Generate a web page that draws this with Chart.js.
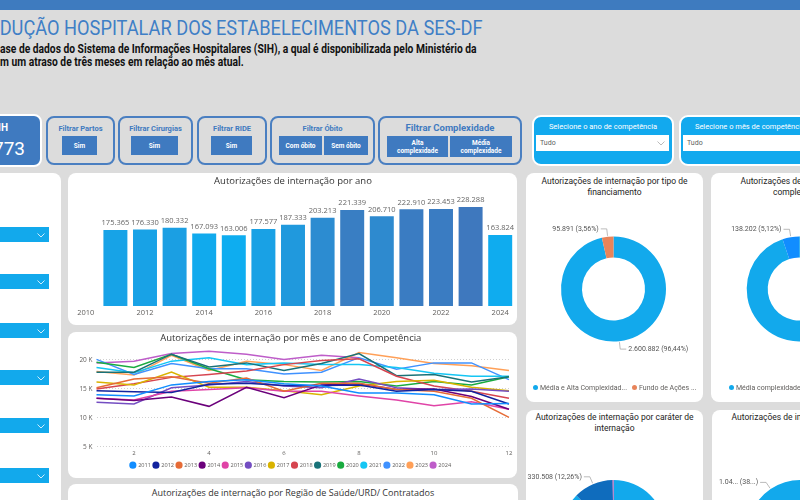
<!DOCTYPE html>
<html lang="pt-BR">
<head>
<meta charset="utf-8">
<title>Produção Hospitalar SES-DF</title>
<script src="https://cdn.jsdelivr.net/npm/chart.js@4.4.1/dist/chart.umd.min.js"></script>
<style>
  html, body { margin: 0; padding: 0; }
  body { width: 800px; height: 500px; overflow: hidden; position: relative; background: #dcdcdc; font-family: Roboto, "Open Sans", sans-serif; }
  .abs { position: absolute; }
  .card { position: absolute; background: #fff; border-radius: 8px; }
  .filtro { position: absolute; top: 116px; height: 49px; box-sizing: border-box; border: 2px solid #4a7fc1; border-radius: 8px; }
  .filtro .tit { position: absolute; left: 0; right: 0; top: 6px; text-align: center; font: bold 7.5px Roboto; color: #3f7ac0; white-space: nowrap; }
  .botao { position: absolute; top: 136px; height: 19px; background: #3f7ac0; color: #fff; font: bold 6.5px Roboto; display: flex; align-items: center; justify-content: center; text-align: center; line-height: 8px; }
  .slicer { position: absolute; top: 115px; width: 142px; height: 51px; box-sizing: border-box; background: #12a9ee; border: 2px solid #fff; border-radius: 9px; }
  .slicer .tit { position: absolute; left: 0; right: 0; top: 5px; text-align: center; color: #fff; font: 7.5px Roboto; white-space: nowrap; }
  .slicer .caixa { position: absolute; left: 2px; top: 18px; width: 133px; height: 16px; background: #fff; font: 7px/16px Roboto; color: #605e5c; }
  .caixa span { position: absolute; left: 4px; }
  .caixa svg, .lista svg { position: absolute; right: 4px; top: 6px; }
  .lista { position: absolute; left: 0; width: 49px; height: 15px; background: #12a9ec; }
  .sub { position: absolute; left: 0; font: bold 12px/13px Roboto; color: #111; white-space: nowrap; transform-origin: left center; }
  .tcard { position: absolute; text-align: center; font: 8.5px/11px Roboto; color: #252423; white-space: nowrap; }
  .leg { position: absolute; font: 7px Roboto; color: #605e5c; white-space: nowrap; }
  .leg .li { margin-right: 5px; }
  .leg i { display: inline-block; width: 5px; height: 5px; border-radius: 50%; margin-right: 2px; vertical-align: 0; }
</style>
</head>
<body>

<div class="abs" style="left:0;top:0;width:800px;height:10px;background:#3e7bbf"></div>
<div id="titulo" class="abs" style="right:317px;top:18px;font:21px/21px Roboto;color:#3f7fc6;white-space:nowrap;transform-origin:right center"><span id="tituloPre">PRO</span>DUÇÃO HOSPITALAR DOS ESTABELECIMENTOS DA SES-DF</div>
<div id="sub1" class="sub" style="top:43px">ase de dados do Sistema de Informações Hospitalares (SIH), a qual é disponibilizada pelo Ministério da</div>
<div id="sub2" class="sub" style="top:56px">m um atraso de três meses em relação ao mês atual.</div>

<!-- cartão total -->
<div class="abs" style="left:-20px;top:114px;width:58px;height:49px;background:#3f7ac0;border:2px solid #fff;border-radius:8px"></div>
<div class="abs" style="right:792px;top:122px;color:#fff;font:bold 10px Roboto;white-space:nowrap">Total AIH</div>
<div class="abs" style="right:775px;top:137px;color:#fff;font:19px Roboto;white-space:nowrap">2.696.773</div>

<!-- filtros -->
<div class="filtro" style="left:46px;width:69px"><div class="tit">Filtrar Partos</div></div>
<div class="botao" style="left:62px;width:35px">Sim</div>
<div class="filtro" style="left:118px;width:75px"><div class="tit">Filtrar Cirurgias</div></div>
<div class="botao" style="left:131px;width:47px">Sim</div>
<div class="filtro" style="left:197px;width:70px"><div class="tit">Filtrar RIDE</div></div>
<div class="botao" style="left:211px;width:41px">Sim</div>
<div class="filtro" style="left:270px;width:105px"><div class="tit">Filtrar Óbito</div></div>
<div class="botao" style="left:279px;width:43px">Com óbito</div>
<div class="botao" style="left:324px;width:44px">Sem óbito</div>
<div class="filtro" style="left:378px;width:144px"><div class="tit" style="font-size:9.5px;top:4px">Filtrar Complexidade</div></div>
<div class="botao" style="left:387px;width:61px;height:21px">Alta<br>complexidade</div>
<div class="botao" style="left:450px;width:62px;height:21px">Média<br>complexidade</div>

<div class="slicer" style="left:532px"><div class="tit">Selecione o ano de competência</div>
  <div class="caixa"><span>Tudo</span><svg width="8" height="5"><polyline points="0.5,0.5 4,4 7.5,0.5" fill="none" stroke="#aaa" stroke-width="0.8"/></svg></div></div>
<div class="slicer" style="left:679px"><div class="tit">Selecione o mês de competência</div>
  <div class="caixa"><span>Tudo</span><svg width="8" height="5"><polyline points="0.5,0.5 4,4 7.5,0.5" fill="none" stroke="#aaa" stroke-width="0.8"/></svg></div></div>

<!-- painel esquerdo -->
<div class="card" style="left:-20px;top:173px;width:81px;height:340px"></div>
<div id="listas"></div>

<!-- cartões -->
<div class="card" style="left:68px;top:173px;width:449px;height:152px"></div>
<canvas id="gAno" class="abs" width="449" height="152" style="left:68px;top:173px"></canvas>

<div class="card" style="left:68px;top:332px;width:449px;height:146px"></div>
<canvas id="gMes" class="abs" width="449" height="146" style="left:68px;top:332px"></canvas>

<div class="card" style="left:68px;top:484px;width:450px;height:40px"></div>
<div class="abs" style="left:68px;width:450px;top:486px;text-align:center;font:9px 'Open Sans';color:#333">Autorizações de internação por Região de Saúde/URD/ Contratados</div>

<div class="card" style="left:526px;top:173px;width:177px;height:229px"></div>
<div class="card" style="left:711px;top:173px;width:177px;height:229px"></div>
<div class="card" style="left:526px;top:410px;width:177px;height:229px"></div>
<div class="card" style="left:712px;top:410px;width:177px;height:229px"></div>

<div class="tcard" style="left:526px;width:177px;top:176px">Autorizações de internação por tipo de<br>financiamento</div>
<div class="tcard" style="left:711px;width:177px;top:176px">Autorizações de internação por<br>complexidade</div>
<div class="tcard" style="left:526px;width:177px;top:412px">Autorizações de internação por caráter de<br>internação</div>
<div class="tcard" style="left:712px;width:177px;top:412px">Autorizações de internação por sexo</div>

<canvas id="gFin" class="abs" width="177" height="229" style="left:526px;top:173px"></canvas>
<canvas id="gCompl" class="abs" width="177" height="229" style="left:711px;top:173px"></canvas>
<canvas id="gCarater" class="abs" width="177" height="229" style="left:526px;top:410px"></canvas>
<canvas id="gSexo" class="abs" width="177" height="229" style="left:712px;top:410px"></canvas>

<div id="legFin" class="leg" style="left:533px;top:384px"></div>
<div id="legCompl" class="leg" style="left:729px;top:384px"></div>

<script>
// autorizações por ano
const anos = ['2010', '2011', '2012', '2013', '2014', '2015', '2016', '2017', '2018', '2019', '2020', '2021', '2022', '2023', '2024'];
const aihPorAno = [null, 175365, 176330, 180332, 167093, 163006, 177577, 187333, 203213, 221339, 206710, 222910, 223453, 228288, 163824];

// autorizações por mês de competência
const meses = ['1', '2', '3', '4', '5', '6', '7', '8', '9', '10', '11', '12'];
const anosSerie = ['2011', '2012', '2013', '2014', '2015', '2016', '2017', '2018', '2019', '2020', '2021', '2022', '2023', '2024'];
const aih2011 = [14000, 13800, 15700, 16300, 16600, 15900, 15500, 14300, 14300, 14000, 12400, 12500];
const aih2012 = [14700, 14500, 14400, 15800, 16000, 15600, 15600, 15700, 14600, 14900, 14600, 12400];
const aih2013 = [15200, 16700, 17100, 16000, 16900, 14600, 16000, 16000, 14900, 14600, 13400, 10100];
const aih2014 = [13400, 13000, 13600, 12000, 15300, 13500, 15700, 15900, 14900, 15000, 13700, 11500];
const aih2015 = [13400, 13100, 14600, 14900, 15200, 14600, 14600, 13800, 13100, 12100, 12800, 11500];
const aih2016 = [12700, 12400, 15200, 15700, 16300, 15500, 15200, 16700, 15200, 14900, 15000, 14600];
const aih2017 = [16200, 15700, 17900, 15300, 15300, 14700, 14000, 15500, 16300, 16500, 15300, 14700];
const aih2018 = [15000, 15900, 17000, 17500, 18100, 19200, 19900, 20200, 17200, 15500, 14600, 13400];
const aih2019 = [17900, 17900, 21000, 18800, 19500, 18200, 19400, 21100, 17300, 17500, 16200, 17100];
const aih2020 = [19600, 18700, 21000, 18500, 16600, 16300, 16200, 16300, 15500, 16300, 15700, 17100];
const aih2021 = [18700, 17800, 19800, 20400, 19200, 19500, 19200, 19200, 18700, 17700, 17200, 17200];
const aih2022 = [20100, 17500, 19400, 18500, 18500, 17600, 17900, 20400, 18400, 19500, 19500, 16600];
const aih2023 = [18000, 17400, 20800, 18200, 19800, 19200, 18200, 21300, 20400, 19400, 19000, 18200];
const aih2024 = [19500, 19800, 21100, 21500, 21000, 20100, 20800, 20400];
const seriesMes = [aih2011, aih2012, aih2013, aih2014, aih2015, aih2016, aih2017, aih2018, aih2019, aih2020, aih2021, aih2022, aih2023, aih2024];
const ticksMil = [5000, 10000, 15000, 20000];

// roscas
const tiposFinanciamento = ['Média e Alta Complexidad...', 'Fundo de Ações ...'];
const aihFinanciamento = [2600882, 95891];
const complexidades = ['Média complexidade', 'Alta complexidade'];
const aihComplexidade = [2558571, 138202];
const carateres = ['Urgência', 'Eletivo', 'Outros'];
const aihCarater = [2359265, 330508, 7000];
const sexos = ['Masculino', 'Feminino'];
const aihSexo = [1041512, 1655261];

const coresAnos = ['#118DFF', '#12239E', '#E66C37', '#6B007B', '#E044A7', '#744EC2', '#D9B300', '#D64550', '#197278', '#1AAB40', '#15C6F4', '#4092FF', '#FFA058', '#BE5DC9'];
const azulClaro = '#12a9ec';

function fmt(n) {
    return String(n).replace(/\B(?=(\d{3})+(?!\d))/g, '.');
}

// fonte condensada dos textos do cabeçalho
function ajustarCabecalho() {
    const t = document.getElementById('titulo');
    const pre = document.getElementById('tituloPre').offsetWidth;
    t.style.transform = `scaleX(${483 / (t.offsetWidth - pre)})`;
    const s1 = document.getElementById('sub1');
    const k = 477 / s1.offsetWidth;
    s1.style.transform = `scaleX(${k})`;
    document.getElementById('sub2').style.transform = `scaleX(${k})`;
}

function montarListas() {
    const tops = [227, 274, 323, 370, 418, 468];
    document.getElementById('listas').innerHTML = tops.map(t =>
        `<div class="lista" style="top:${t}px"><svg width="8" height="5"><polyline points="0.5,0.5 4,4 7.5,0.5" fill="none" stroke="#fff" stroke-width="0.8"/></svg></div>`
    ).join('');
}

function legenda(id, rotulos, cores) {
    document.getElementById(id).innerHTML = rotulos.map((r, i) =>
        `<span class="li"><i style="background:${cores[i]}"></i>${r}</span>`
    ).join('');
}

Chart.defaults.font.family = '"Open Sans", sans-serif';
Chart.defaults.color = '#605e5c';

const valMin = Math.min(...aihPorAno.filter(v => v != null));
const valMax = Math.max(...aihPorAno.filter(v => v != null));
function corBarra(v) {
    if (v == null) return 'transparent';
    const t = (v - valMin) / (valMax - valMin);
    const a = [14, 173, 240], b = [62, 120, 190];
    const c = a.map((x, i) => Math.round(x + (b[i] - x) * t));
    return `rgb(${c[0]}, ${c[1]}, ${c[2]})`;
}

const rotulosBarras = {
    id: 'rotulosBarras',
    afterDatasetsDraw(chart) {
        const ctx = chart.ctx;
        const meta = chart.getDatasetMeta(0);
        ctx.save();
        ctx.font = '7.5px "Open Sans"';
        ctx.fillStyle = '#666';
        ctx.textAlign = 'center';
        ctx.textBaseline = 'bottom';
        meta.data.forEach((bar, i) => {
            const v = chart.data.datasets[0].data[i];
            if (v == null) return;
            ctx.fillText(fmt(v), bar.x, bar.y - 3);
        });
        ctx.restore();
    }
};

const rotulosRosca = {
    id: 'rotulosRosca',
    afterDatasetsDraw(chart) {
        const ctx = chart.ctx;
        const dados = chart.data.datasets[0].data;
        const total = dados.reduce((a, b) => a + b, 0);
        ctx.save();
        ctx.font = '7px Roboto';
        ctx.fillStyle = '#555';
        ctx.strokeStyle = '#aaa';
        ctx.lineWidth = 0.8;
        ctx.textBaseline = 'middle';
        chart.getDatasetMeta(0).data.forEach((arc, i) => {
            const pct = dados[i] / total * 100;
            if (pct < 1) return;
            const p = arc.getProps(['x', 'y', 'startAngle', 'endAngle', 'outerRadius'], true);
            const ang = (p.startAngle + p.endAngle) / 2;
            const c = Math.cos(ang), s = Math.sin(ang);
            const x1 = p.x + c * (p.outerRadius + 1), y1 = p.y + s * (p.outerRadius + 1);
            const x2 = p.x + c * (p.outerRadius + 8), y2 = p.y + s * (p.outerRadius + 8);
            const dir = c >= 0 ? 1 : -1;
            const x3 = x2 + dir * 6;
            const vTxt = fmt(dados[i]);
            const pTxt = pct.toFixed(2).replace('.', ',') + '%';
            let txt = `${vTxt} (${pTxt})`;
            const espaco = dir > 0 ? chart.width - x3 : x3;
            if (ctx.measureText(txt).width + 2 > espaco) {
                txt = `${vTxt.slice(0, 4)}... (${pTxt.slice(0, 2)}...)`;
            }
            ctx.beginPath();
            ctx.moveTo(x1, y1);
            ctx.lineTo(x2, y2);
            ctx.lineTo(x3, y2);
            ctx.stroke();
            ctx.textAlign = dir > 0 ? 'left' : 'right';
            ctx.fillText(txt, x3 + dir * 2, y2);
        });
        ctx.restore();
    }
};

function rosca(id, rotulos, valores, cores, pad, rotacao) {
    return new Chart(document.getElementById(id), {
        type: 'doughnut',
        data: {
            labels: rotulos,
            datasets: [{ data: valores, backgroundColor: cores, borderWidth: 0 }]
        },
        options: {
            responsive: false,
            animation: false,
            cutout: '60%',
            rotation: rotacao || 0,
            layout: { padding: pad },
            plugins: { legend: { display: false }, tooltip: { enabled: false } }
        },
        plugins: [rotulosRosca]
    });
}

function desenhar() {
    ajustarCabecalho();
    montarListas();

    new Chart(document.getElementById('gAno'), {
        type: 'bar',
        data: {
            labels: anos,
            datasets: [{
                data: aihPorAno,
                backgroundColor: aihPorAno.map(corBarra),
                barPercentage: 0.9,
                categoryPercentage: 0.9
            }]
        },
        options: {
            responsive: false,
            animation: false,
            layout: { padding: { left: 3, right: 2, top: 0, bottom: 0 } },
            plugins: {
                legend: { display: false },
                tooltip: { enabled: false },
                title: {
                    display: true,
                    text: 'Autorizações de internação por ano',
                    color: '#333',
                    font: { size: 9.5, weight: 'normal' },
                    padding: { top: 2.5, bottom: 6.3 }
                }
            },
            scales: {
                x: {
                    grid: { display: false, drawTicks: false },
                    border: { display: false },
                    ticks: {
                        autoSkip: false, maxRotation: 0, padding: 2, font: { size: 7.5 },
                        callback: (v, i) => i % 2 === 0 ? anos[i] : ''
                    },
                    afterFit: s => { s.height = 19; }
                },
                y: { display: false, min: 0, max: 260000 }
            }
        },
        plugins: [rotulosBarras]
    });

    new Chart(document.getElementById('gMes'), {
        type: 'line',
        data: {
            labels: meses,
            datasets: anosSerie.map((a, k) => ({
                label: a,
                data: seriesMes[k],
                borderColor: coresAnos[k],
                backgroundColor: coresAnos[k],
                borderWidth: 1.5,
                pointRadius: 0,
                tension: 0
            }))
        },
        options: {
            responsive: false,
            animation: false,
            layout: { padding: { left: 4.5, right: 8, top: 0, bottom: 0 } },
            plugins: {
                tooltip: { enabled: false },
                title: {
                    display: true,
                    text: 'Autorizações de internação por mês e ano de Competência',
                    color: '#333',
                    font: { size: 9.5, weight: 'normal' },
                    padding: { top: 1, bottom: 4 }
                },
                legend: {
                    position: 'bottom',
                    labels: {
                        usePointStyle: true, pointStyle: 'circle',
                        boxWidth: 5, boxHeight: 4, padding: 2.5,
                        font: { size: 5.6 }, color: '#605e5c'
                    }
                }
            },
            scales: {
                x: {
                    grid: { display: false, drawTicks: false },
                    border: { display: false },
                    ticks: {
                        autoSkip: false, maxRotation: 0, padding: 3, font: { size: 6 },
                        callback: (v, i) => (i + 1) % 2 === 0 ? meses[i] : ''
                    },
                    afterFit: s => { s.height = 13; }
                },
                y: {
                    min: 5000,
                    max: 22000,
                    afterBuildTicks: s => { s.ticks = ticksMil.map(v => ({ value: v })); },
                    grid: { drawTicks: false, color: '#d0d0d0' },
                    border: { display: false, dash: [1, 2] },
                    ticks: {
                        autoSkip: false, padding: 4, font: { size: 6.5 }, color: '#605e5c',
                        callback: v => (v / 1000) + ' K'
                    },
                    afterFit: s => { s.width = 24; }
                }
            }
        }
    });

    rosca('gFin', tiposFinanciamento, aihFinanciamento, [azulClaro, '#e8845a'],
        { left: 35, right: 37, top: 63.5, bottom: 60.5 });
    rosca('gCompl', complexidades, aihComplexidade, [azulClaro, '#118dff'],
        { left: 35.7, right: 36.3, top: 63.5, bottom: 60.5 });
    rosca('gCarater', carateres, aihCarater, [azulClaro, '#0f6cbd', '#e044a7'],
        { left: 35, right: 37, top: 70, bottom: 54 });
    rosca('gSexo', sexos, aihSexo, [azulClaro, '#0f6cbd'],
        { left: 35.5, right: 36.5, top: 70, bottom: 54 }, -103.6);

    legenda('legFin', tiposFinanciamento, [azulClaro, '#e8845a']);
    legenda('legCompl', complexidades, [azulClaro, '#118dff']);
}

window.addEventListener('load', () => {
    document.fonts.ready.then(desenhar);
});
</script>
</body>
</html>
